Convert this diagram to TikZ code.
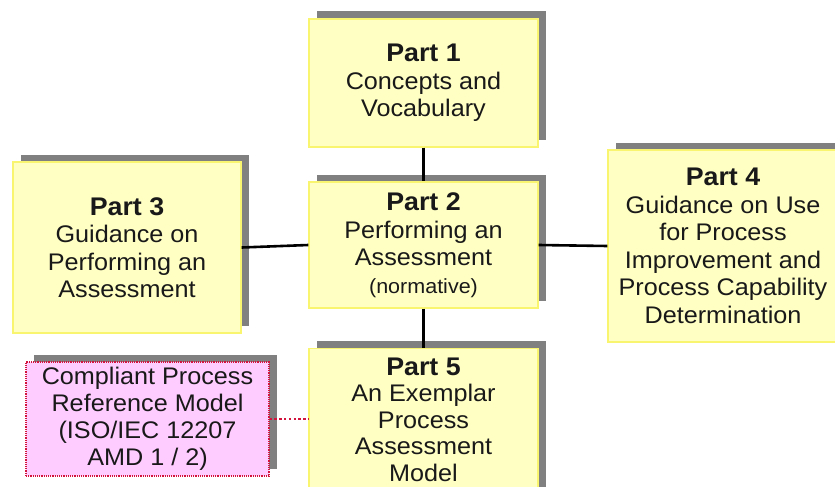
\documentclass[tikz,border=0pt]{standalone}
\usepackage{fontspec}
\setmainfont{Liberation Sans}[FakeStretch=1.05]
\usetikzlibrary{shadows}
\definecolor{boxfill}{RGB}{255,255,196}
\definecolor{boxedge}{RGB}{250,245,110}
\definecolor{refill}{RGB}{255,204,255}
\definecolor{reedge}{RGB}{210,20,60}
\definecolor{shade}{RGB}{128,128,128}
\definecolor{ink}{RGB}{25,25,25}
\newcommand{\parttitle}[1]{{\fontsize{25.5}{27}\selectfont\bfseries #1}}
\tikzset{
  boxshadow/.style={drop shadow={shadow xshift=8pt, shadow yshift=7.5pt, opacity=1, fill=shade}},
  partbox/.style={boxshadow, draw=boxedge, line width=1.3pt, fill=boxfill,
    minimum width=229pt, inner sep=0pt, align=center, text=ink,
    font=\fontsize{24}{27.5}\selectfont},
  refbox/.style={boxshadow, draw=reedge, densely dotted, line width=1.2pt, fill=refill,
    minimum width=243pt, inner sep=0pt, align=center, text=ink,
    font=\fontsize{24}{27}\selectfont},
  link/.style={line width=2.6pt, black},
  reflink/.style={line width=2.4pt, reedge, dash pattern=on 2.4pt off 2.4pt},
}
\begin{document}
\begin{tikzpicture}[x=1pt, y=-1pt]
  \useasboundingbox (0,0) rectangle (835,487);
  \clip (0,0) rectangle (835,487);

  \node[partbox, minimum height=128pt] (p1) at (423.5,83)
    {\parttitle{Part 1}\\Concepts and\\Vocabulary};
  \node[partbox, minimum height=126pt] (p2) at (423.5,245)
    {\parttitle{Part 2}\\Performing an\\Assessment\\{\fontsize{20.5}{25}\selectfont (normative)}};
  \node[partbox, minimum width=228pt, minimum height=171pt] (p3) at (127,247.5)
    {\parttitle{Part 3}\\Guidance on\\Performing an\\Assessment};
  \node[partbox, minimum width=230pt, minimum height=192pt] (p4) at (723,246)
    {\parttitle{Part 4}\\Guidance on Use\\for Process\\Improvement and\\Process Capability\\Determination};
  % runs on past the lower edge of the page
  \node[partbox, anchor=north, inner ysep=9pt, text depth=30pt,
        font=\fontsize{24}{26.6}\selectfont] (p5) at (423.5,348)
    {\parttitle{Part 5}\\An Exemplar\\Process\\Assessment\\Model};
  \node[refbox, minimum height=114pt] (cm) at (147.5,419)
    {Compliant Process\\Reference Model\\(ISO/IEC 12207\\AMD 1 / 2)};

  \draw[link] (p1.south) -- (p2.north);
  \draw[link] (p2.south) -- (p5.north);
  \draw[link] (p3.east) -- (p2.west);
  \draw[link] (p2.east) -- (p4.west);
  \draw[reflink] (cm.east) -- (cm.east -| p5.west);
\end{tikzpicture}
\end{document}
